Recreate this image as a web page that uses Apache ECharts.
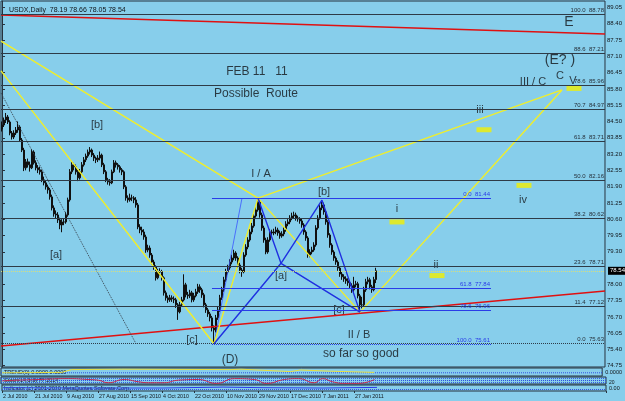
<!DOCTYPE html>
<html lang="en">
<head>
<meta charset="UTF-8">
<title>USDX Daily</title>
<script src="https://cdn.jsdelivr.net/npm/echarts@6/dist/echarts.min.js"></script>
<style>
  html, body { margin: 0; padding: 0; background: #87CEEB; }
  #main { width: 625px; height: 401px; }
</style>
</head>
<body>
<div id="main"></div>
<script type="text/javascript">
// daily bars, 2 Jul 2010 .. 11 Feb 2011   [open, close, low, high]
var candles = [
  [84.20,84.36,84.10,84.50],[84.36,84.56,84.28,84.66],[84.56,84.68,84.44,84.84],[84.68,84.48,84.40,84.76],
  [84.48,84.04,83.95,84.55],[84.04,83.88,83.78,84.12],[83.88,84.04,83.80,84.15],[84.04,84.16,83.96,84.28],
  [84.16,84.28,84.05,84.50],[84.28,83.76,83.70,84.35],[83.76,83.36,83.28,83.84],[83.36,82.65,82.52,83.45],
  [82.65,82.89,82.55,83.00],[82.89,82.77,82.66,83.02],[82.77,82.65,82.50,82.90],[82.65,83.28,82.60,83.40],
  [83.28,82.85,82.78,83.35],[82.85,82.65,82.55,82.95],[82.65,82.57,82.44,82.76],[82.57,82.49,82.38,82.70],
  [82.49,82.17,82.08,82.58],[82.17,82.05,81.95,82.30],[82.05,81.89,81.78,82.15],[81.89,81.77,81.62,81.98],
  [81.77,81.49,81.38,81.85],[81.49,81.05,80.95,81.58],[81.05,80.81,80.70,81.15],[80.81,80.77,80.62,80.95],
  [80.77,80.57,80.45,80.88],[80.57,80.37,80.20,80.66],[80.37,80.49,80.08,80.60],[80.49,80.49,80.36,80.62],
  [80.49,80.77,80.42,80.88],[80.77,81.37,80.70,81.46],[81.37,82.49,81.30,82.60],[82.49,82.77,82.40,82.92],
  [82.77,82.69,82.55,82.85],[82.69,82.49,82.38,82.78],[82.49,82.25,82.12,82.58],[82.25,82.49,82.18,82.60],
  [82.49,82.77,82.42,82.88],[82.77,82.97,82.70,83.08],[82.97,83.12,82.88,83.22],[83.12,83.28,83.05,83.38],
  [83.28,83.36,83.18,83.48],[83.36,83.16,83.08,83.42],[83.16,83.04,82.92,83.24],[83.04,82.97,82.84,83.10],
  [82.97,83.04,82.88,83.16],[83.04,83.16,82.95,83.30],[83.16,82.77,82.68,83.22],[82.77,82.49,82.40,82.85],
  [82.49,82.17,82.08,82.56],[82.17,82.09,81.98,82.25],[82.09,82.05,81.94,82.20],[82.05,82.49,82.00,82.58],
  [82.49,82.85,82.44,82.96],[82.85,82.77,82.66,82.94],[82.77,82.69,82.58,82.84],[82.69,82.57,82.46,82.76],
  [82.57,82.49,82.36,82.64],[82.49,81.89,81.80,82.55],[81.89,81.45,81.34,81.96],[81.45,81.37,81.26,81.55],
  [81.37,81.45,81.30,81.62],[81.45,81.45,81.32,81.58],[81.45,81.37,81.24,81.52],[81.37,81.17,81.06,81.48],
  [81.17,80.29,80.20,81.25],[80.29,80.17,80.04,80.40],[80.17,80.09,79.96,80.30],[80.09,79.89,79.78,80.20],
  [79.89,79.37,79.26,79.98],[79.37,79.45,79.28,79.58],[79.45,79.17,79.06,79.55],[79.17,78.89,78.78,79.25],
  [78.89,78.69,78.58,78.98],[78.69,78.26,78.15,78.76],[78.26,78.50,78.20,78.62],[78.50,78.50,78.36,78.64],
  [78.50,78.26,78.15,78.58],[78.26,77.66,77.55,78.32],[77.66,77.46,77.35,77.75],[77.46,77.38,77.26,77.55],
  [77.38,77.46,77.30,77.58],[77.46,77.42,77.30,77.56],[77.42,77.38,77.25,77.52],[77.38,77.18,77.06,77.46],
  [77.18,76.90,76.58,77.25],[76.90,77.18,76.84,77.30],[77.18,77.38,77.10,77.50],[77.38,77.98,77.32,78.40],
  [77.98,77.58,77.48,78.06],[77.58,77.54,77.42,77.70],[77.54,77.66,77.45,77.78],[77.66,77.38,77.28,77.74],
  [77.38,77.54,77.30,77.66],[77.54,77.70,77.48,77.82],[77.70,77.90,77.62,78.02],[77.90,77.78,77.66,78.00],
  [77.78,77.58,77.46,77.86],[77.58,77.18,77.08,77.66],[77.18,76.98,76.86,77.26],[76.98,76.82,76.70,77.06],
  [76.82,76.66,76.52,76.90],[76.66,76.26,76.12,76.74],[76.26,76.18,75.63,76.36],[76.18,76.66,76.08,76.78],
  [76.66,76.98,76.58,77.10],[76.98,77.46,76.90,77.58],[77.46,77.78,77.38,77.90],[77.78,78.18,77.70,78.30],
  [78.18,78.50,78.10,78.62],[78.50,78.66,78.40,78.78],[78.66,78.89,78.58,79.00],[78.89,79.05,78.80,79.18],
  [79.05,79.25,78.96,79.38],[79.25,79.05,78.94,79.32],[79.05,78.77,78.66,79.12],[78.77,78.57,78.44,78.86],
  [78.57,78.50,78.30,78.66],[78.50,79.17,78.44,79.28],[79.17,79.49,79.10,79.60],[79.49,79.77,79.40,79.88],
  [79.77,80.09,79.70,80.20],[80.09,80.33,80.00,80.45],[80.33,80.73,80.26,80.84],[80.73,80.97,80.66,81.10],
  [80.97,81.29,80.90,81.44],[81.29,80.77,80.66,81.38],[80.77,80.25,80.14,80.86],[80.25,79.77,79.66,80.34],
  [79.77,79.29,79.20,79.86],[79.29,79.77,79.22,79.88],[79.77,80.09,79.70,80.20],[80.09,80.05,79.92,80.18],
  [80.05,80.09,79.96,80.22],[80.09,80.17,80.00,80.30],[80.17,80.05,79.94,80.26],[80.05,79.93,79.82,80.14],
  [79.93,80.01,79.86,80.12],[80.01,80.17,79.92,80.28],[80.17,80.41,80.10,80.52],[80.41,80.49,80.32,80.60],
  [80.49,80.65,80.40,80.76],[80.65,80.73,80.56,80.86],[80.73,80.77,80.62,80.90],[80.77,80.65,80.54,80.86],
  [80.65,80.61,80.50,80.74],[80.61,80.53,80.42,80.68],[80.53,80.37,80.26,80.62],[80.37,80.09,79.98,80.44],
  [80.09,79.85,79.74,80.16],[79.85,79.17,79.06,79.92],[79.17,79.29,79.08,79.40],[79.29,79.37,79.20,79.50],
  [79.37,79.57,79.30,79.68],[79.57,80.25,79.50,80.36],[80.25,80.65,80.18,80.76],[80.65,81.05,80.58,81.16],
  [81.05,81.17,80.96,81.36],[81.17,80.89,80.78,81.26],[80.89,80.49,80.38,80.96],[80.49,79.97,79.86,80.56],
  [79.97,79.57,79.46,80.04],[79.57,79.29,79.18,79.64],[79.29,79.05,78.94,79.36],[79.05,78.89,78.78,79.12],
  [78.89,78.65,78.54,78.96],[78.65,78.41,78.30,78.72],[78.41,78.30,78.18,78.50],[78.30,78.22,78.10,78.40],
  [78.22,78.14,78.02,78.32],[78.14,78.06,77.94,78.24],[78.06,77.94,77.82,78.16],[77.94,77.78,77.66,78.04],
  [77.78,77.98,77.70,78.30],[77.98,78.02,77.88,78.14],[78.02,77.54,77.44,78.10],[77.54,77.18,76.89,77.62],
  [77.18,77.18,77.04,77.50],[77.18,77.78,77.10,77.90],[77.78,78.10,77.70,78.22],[78.10,78.18,78.00,78.30],
  [78.18,77.90,77.80,78.26],[77.90,77.78,77.66,77.98],[77.78,78.19,77.72,78.30],[78.19,78.54,78.05,78.66]
];

var slotCount = 302;   // bars that fit the window (2 px per bar)
var dateIdx  = [0, 16, 32, 48, 64, 80, 96, 112, 128, 144, 160, 176];
var dateText = ['2 Jul 2010', '21 Jul 2010', '9 Aug 2010', '27 Aug 2010', '15 Sep 2010', '4 Oct 2010',
                '22 Oct 2010', '10 Nov 2010', '29 Nov 2010', '17 Dec 2010', '7 Jan 2011', '27 Jan 2011'];
var priceTicks = [74.75, 75.40, 76.05, 76.70, 77.35, 78.00, 79.30, 79.95, 80.60, 81.25, 81.90, 82.55,
                  83.20, 83.85, 84.50, 85.15, 85.80, 86.45, 87.10, 87.75, 88.40, 89.05];
var lastPrice = 78.54;

// fibonacci levels [ratio, price]
var fibGray = [[100.0, 88.78], [88.6, 87.21], [78.6, 85.96], [70.7, 84.97], [61.8, 83.71],
               [50.0, 82.16], [38.2, 80.62], [23.6, 78.71], [11.4, 77.12], [0.0, 75.63]];
var fibBlue = [[0.0, 81.44], [61.8, 77.84], [78.6, 76.96], [100.0, 75.61]];
var fibBlueSpan = [105, 244.5];

// drawn lines [bar index, price]
var yellow1 = [[-0.5, 87.71], [128, 81.44], [280, 85.76]];
var yellow2 = [[-0.5, 86.52], [106, 75.63], [128, 81.44], [179, 76.89], [280, 85.76]];
var blueA   = [[106, 75.63], [139.5, 78.84], [160, 81.36], [179, 76.89]];
var blueB   = [[128, 81.44], [139.5, 78.84], [179, 76.89]];
var blueThin = [[106, 75.63], [120, 81.44]];
var redTop    = [[-0.5, 88.75], [301.5, 87.99]];
var redBottom = [[-0.5, 75.54], [301.5, 77.73]];
var dotLine   = [[-0.5, 85.64], [67, 75.63]];
var waveBoxes = [[286, 85.82], [241, 84.17], [261, 81.95], [197.5, 80.49], [217.5, 78.35]];

// wave labels [bar index, price, text, font size]
var notes = [
  [127.5, 86.48, 'FEB 11   11', 12], [127, 85.60, 'Possible  Route', 12],
  [283.5, 88.47, 'E', 14], [279, 86.96, '(E? )', 14], [265.5, 86.08, 'III / C', 11],
  [279, 86.32, 'C', 11], [285.5, 86.12, 'V', 11], [239, 84.96, 'iii', 11],
  [260.5, 81.37, 'iv', 11], [197.5, 81.01, 'i', 11], [217, 78.78, 'ii', 11],
  [47.5, 84.36, '[b]', 11], [27, 79.17, '[a]', 11], [95, 75.78, '[c]', 11],
  [114, 74.98, '(D)', 12], [129.5, 82.40, 'I / A', 11], [161, 81.68, '[b]', 11],
  [139.5, 78.33, '[a]', 11], [168.5, 76.98, '[c]', 11], [178.5, 75.98, 'II / B', 11],
  [179.5, 75.22, 'so far so good', 12]
];

// indicator windows
var ind1Line = [[0, 0.4], [30, 0.45], [35, 0.8], [60, 0.85], [115, 0.8], [120, 0.85],
                [145, 0.55], [150, 0.75], [165, 0.6], [187, 0.45]];
var stochLine = [[0, 45], [8, 55], [18, 64], [33, 77], [43, 64], [48, 55], [53, 18], [61, 64],
                 [68, 32], [73, 18], [81, 18], [88, 55], [98, 64], [107, 9], [116, 77], [126, 64],
                 [132, 9], [141, 64], [148, 77], [156, 18], [160, 77], [165, 32], [171, 9],
                 [178, 9], [186, 64]];
var ind3Line = [[0, 0.55], [40, 0.5], [80, 0.5], [110, 0.65], [130, 0.55], [160, 0.5], [187, 0.6]];

var slots = [];
for (var i = 0; i < slotCount; i++) slots.push(i);

var FONT = 'Liberation Sans';
var INK = '#111418';
var BORDER = '#27333f';
var FIBGRAY = '#2e3b47';
var FIBBLUE = '#2a3ce8';

function lineSeries(data, color, width, type, xi, yi) {
    return {
        type: 'line', data: data, xAxisIndex: xi === undefined ? 1 : xi, yAxisIndex: yi || 0,
        showSymbol: false, silent: true, animation: false,
        itemStyle: { color: color },
        lineStyle: { color: color, width: width, type: type || 'solid' }
    };
}

// series that only carries the fibonacci level lines
var fibSeries = lineSeries([], FIBGRAY, 1);
fibSeries.markLine = {
    silent: true, symbol: ['none', 'none'], animation: false,
    lineStyle: { color: FIBGRAY, width: 1, type: 'solid', opacity: 1 },
    label: { position: 'insideEndTop', distance: 1, fontSize: 6, fontFamily: FONT, color: '#26303a' },
    emphasis: { disabled: true },
    data: fibGray.map(function (f) {
        return {
            yAxis: f[1],
            lineStyle: { color: FIBGRAY, width: 1, type: f[0] === 0 ? 'dotted' : 'solid' },
            label: { formatter: f[0].toFixed(1) + '  ' + f[1].toFixed(2) }
        };
    }).concat(fibBlue.map(function (f) {
        return [
            { coord: [fibBlueSpan[0], f[1]],
              lineStyle: { color: FIBBLUE, width: 1, type: f[0] === 100 ? 'dotted' : 'solid' },
              label: { formatter: f[0].toFixed(1) + '  ' + f[1].toFixed(2), color: FIBBLUE } },
            { coord: [fibBlueSpan[1], f[1]] }
        ];
    }))
};

var myChart = echarts.init(document.getElementById('main'));

myChart.setOption({
    backgroundColor: '#87CEEB',
    animation: false,
    title: {
        text: 'USDX,Daily  78.19 78.66 78.05 78.54', left: 4, top: 2,
        textStyle: { fontSize: 7, fontWeight: 'normal', color: INK, fontFamily: FONT }
    },
    graphic: [
        { type: 'text', left: 4, top: 369, style: { text: 'TREND(0) 0.0000 0.0000', fontSize: 5.5, fill: INK, fontFamily: FONT } },
        { type: 'text', left: 4, top: 377, style: { text: 'Stoch(14,3,3) 77.2014', fontSize: 5.5, fill: INK, fontFamily: FONT } },
        { type: 'text', left: 4, top: 385, style: { text: 'Indicator (c) 2001-2010 MetaQuotes Software Corp.', fontSize: 5.5, fill: INK, fontFamily: FONT } }
    ],
    grid: [
        { left: 1, top: 1, width: 605, height: 366, show: true, borderColor: BORDER, borderWidth: 1 },
        { left: 1, top: 368, width: 605, height: 8, show: true, borderColor: BORDER, borderWidth: 1 },
        { left: 1, top: 377, width: 605, height: 7, show: true, borderColor: BORDER, borderWidth: 1 },
        { left: 1, top: 385, width: 605, height: 6, show: true, borderColor: BORDER, borderWidth: 1 }
    ],
    xAxis: [
        { type: 'category', gridIndex: 0, data: slots, boundaryGap: true, show: false },
        { type: 'value', gridIndex: 0, min: -0.5, max: slotCount - 0.5, show: false },
        { type: 'value', gridIndex: 1, min: -0.5, max: slotCount - 0.5, show: false },
        { type: 'value', gridIndex: 2, min: -0.5, max: slotCount - 0.5, show: false },
        { type: 'value', gridIndex: 3, min: -0.5, max: slotCount - 0.5, show: false },
        {
            type: 'category', gridIndex: 3, data: slots, boundaryGap: true, position: 'bottom',
            axisLine: { show: false },
            axisTick: { show: true, length: 2, lineStyle: { color: BORDER },
                        interval: function (idx) { return dateIdx.indexOf(idx) >= 0; } },
            axisLabel: {
                show: true, margin: 3, fontSize: 5.3, color: INK, fontFamily: FONT, align: 'left',
                interval: function (idx) { return dateIdx.indexOf(idx) >= 0; },
                formatter: function (v, idx) { return dateText[dateIdx.indexOf(idx)]; }
            }
        }
    ],
    yAxis: [
        {
            type: 'value', gridIndex: 0, position: 'right', min: 74.70, max: 89.31,
            splitLine: { show: false },
            axisLine: { show: true, lineStyle: { color: BORDER } },
            axisTick: { show: true, length: 3, inside: false, customValues: priceTicks, lineStyle: { color: BORDER } },
            axisLabel: { customValues: priceTicks, fontSize: 6, margin: 2, color: INK, fontFamily: FONT,
                         formatter: function (v) { return v.toFixed(2); } }
        },
        { type: 'value', gridIndex: 1, position: 'right', min: 0, max: 1, splitLine: { show: false },
          axisLine: { show: false }, axisTick: { show: false },
          axisLabel: { customValues: [0.5], fontSize: 5.5, margin: 3, color: INK, fontFamily: FONT,
                       formatter: function () { return '0.0000'; } } },
        { type: 'value', gridIndex: 2, position: 'right', min: 0, max: 100, splitLine: { show: false },
          axisLine: { show: false }, axisTick: { show: false },
          axisLabel: { customValues: [80, 20], fontSize: 5, margin: 3, color: INK, fontFamily: FONT } },
        { type: 'value', gridIndex: 3, position: 'right', min: 0, max: 1, splitLine: { show: false },
          axisLine: { show: false }, axisTick: { show: false },
          axisLabel: { customValues: [0.5], fontSize: 5.5, margin: 3, color: INK, fontFamily: FONT,
                       formatter: function () { return '0.00'; } } }
    ],
    series: [
        fibSeries,
        lineSeries(redTop, '#e01010', 1.5),
        lineSeries(redBottom, '#e01010', 1.5),
        lineSeries(dotLine, '#3a4652', 1, 'dotted'),
        lineSeries(blueThin, '#3a55ff', 0.8),
        {
            type: 'candlestick', xAxisIndex: 0, yAxisIndex: 0, data: candles,
            barWidth: 1.6, silent: true,
            itemStyle: { color: '#c08428', color0: '#101010', borderColor: '#101010', borderColor0: '#101010', borderWidth: 1 },
            markLine: {
                silent: true, symbol: ['none', 'none'], animation: false,
                lineStyle: { color: '#d8df7a', type: 'dotted', width: 1 },
                label: { position: 'end', distance: 3, formatter: lastPrice.toFixed(2), fontSize: 6,
                         color: '#ffffff', backgroundColor: '#000000', padding: [1, 2], fontFamily: FONT },
                data: [{ yAxis: lastPrice }]
            }
        },
        lineSeries(yellow1, '#f0ee2a', 1.4),
        lineSeries(yellow2, '#f0ee2a', 1.4),
        lineSeries(blueA, '#1f2fe0', 1.4),
        lineSeries(blueB, '#1f2fe0', 1.4),
        {
            type: 'scatter', xAxisIndex: 1, yAxisIndex: 0, symbol: 'rect', symbolSize: [15, 5],
            silent: true, itemStyle: { color: '#f2f000' }, data: waveBoxes
        },
        {
            type: 'scatter', xAxisIndex: 1, yAxisIndex: 0, symbolSize: 1, silent: true,
            itemStyle: { color: 'rgba(0,0,0,0)' },
            label: { show: true, position: 'inside', color: INK, fontFamily: FONT },
            data: notes.map(function (n) {
                return { value: [n[0], n[1]], label: { formatter: n[2], fontSize: n[3] } };
            })
        },
        // indicator 1
        lineSeries([[-0.5, 0.4], [301.5, 0.4]], '#3050e0', 1, 'dotted', 2, 1),
        lineSeries(ind1Line, '#e8e040', 1, 'solid', 2, 1),
        // indicator 2
        lineSeries([[-0.5, 80], [301.5, 80]], '#3050e0', 1, 'dotted', 3, 2),
        lineSeries([[-0.5, 50], [301.5, 50]], '#3050e0', 1, 'dotted', 3, 2),
        lineSeries([[-0.5, 20], [301.5, 20]], '#3050e0', 1, 'dotted', 3, 2),
        Object.assign(lineSeries(stochLine, '#c4284c', 1, 'solid', 3, 2), { smooth: true }),
        // indicator 3
        lineSeries([[-0.5, 0.25], [301.5, 0.25]], '#3050e0', 1, 'dotted', 4, 3),
        lineSeries(ind3Line, '#2a3ce8', 1, 'solid', 4, 3)
    ]
});
</script>
</body>
</html>
